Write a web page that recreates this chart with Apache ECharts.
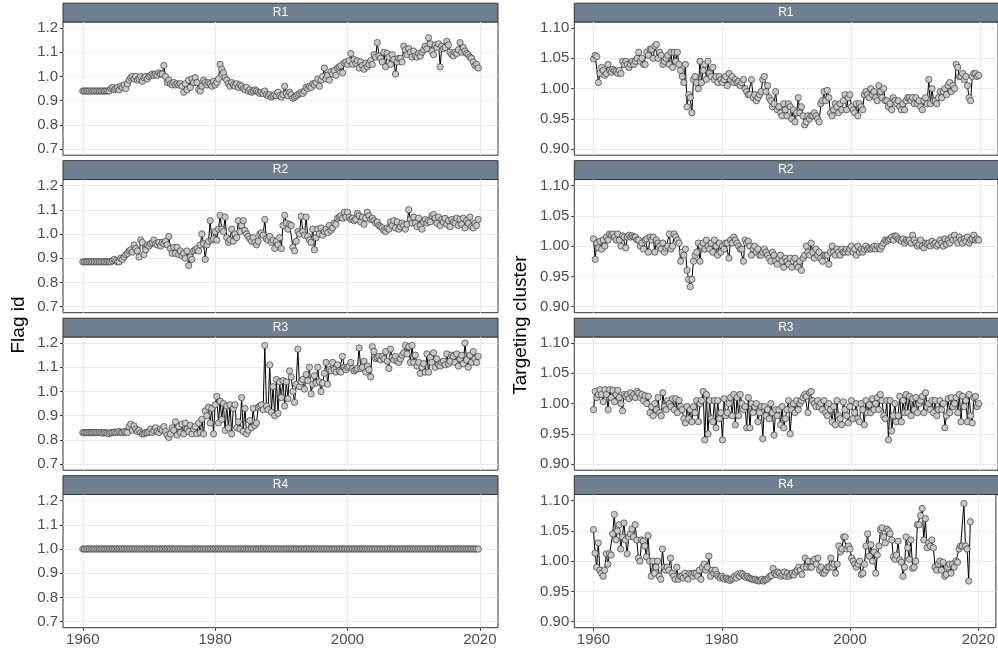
<!DOCTYPE html>
<html>
<head>
<meta charset="utf-8">
<script src="https://cdn.jsdelivr.net/npm/echarts@6/dist/echarts.min.js"></script>
<style>html,body{margin:0;padding:0;background:#fff;}#c{width:998px;height:648px;}</style>
</head>
<body>
<div id="c"></div>
<script>
// ---- data (quarterly, starting 1960 Q1) ----
const startYear = 1960;
const panelNames = ['R1', 'R2', 'R3', 'R4'];
const xTicks = [1960, 1980, 2000, 2020];
const flagTicks = [0.7, 0.8, 0.9, 1.0, 1.1, 1.2];
const targetTicks = [0.90, 0.95, 1.00, 1.05, 1.10];

const flagR1 = [
.94,.94,.94,.94, .94,.94,.94,.94, .94,.94,.94,.94, .94,.94,.94,.94,
.94,.95,.955,.945, .95,.955,.945,.96, .955,.965,.95,.97, .985,.995,1.0,.99,
1.0,.985,.99,1.0, .98,.995,1.0,.99, 1.0,1.005,1.01,1.005, 1.01,1.005,1.015,1.01,
1.01,1.045,1.0,.975, .985,.97,.965,.975, .965,.97,.965,.97, .96,.935,.97,.945,
.985,.955,.99,.975, .995,.975,.945,.94, .96,.985,.975,.965, .975,.97,.96,.98,
.965,.975,.99,1.05, 1.03,1.015,.995,.985, .97,.96,.975,.965, .96,.97,.955,.965,
.96,.95,.945,.955, .94,.945,.935,.94, .945,.94,.935,.93, .935,.93,.94,.925,
.92,.925,.915,.92, .925,.92,.935,.92, .915,.925,.96,.93, .92,.935,.925,.91,
.915,.92,.925,.93, .935,.93,.94,.955, .95,.96,.955,.97, .965,.975,.99,.96,
.985,1.0,1.035,.99, 1.005,.985,1.02,1.01, 1.025,1.005,1.035,1.04, 1.045,1.015,1.055,1.06,
1.05,1.065,1.095,1.05, 1.07,1.055,1.065,1.035, 1.06,1.045,1.03,1.055, 1.04,1.05,1.065,1.05,
1.09,1.08,1.14,1.085, 1.075,1.06,1.1,1.04, 1.095,1.08,1.05,1.09, 1.07,1.01,1.06,1.075,
1.075,1.06,1.125,1.11, 1.09,1.115,1.1,1.08, 1.105,1.085,1.08,1.095, 1.085,1.1,1.11,1.125,
1.115,1.16,1.135,1.105, 1.09,1.13,1.12,1.135, 1.04,1.125,1.115,1.12, 1.145,1.13,1.1,1.09,
1.085,1.1,1.095,1.11, 1.14,1.1,1.12,1.105, 1.095,1.09,1.08,1.075, 1.06,1.045,1.05,1.035
];
const flagR2 = [
.885,.885,.885,.885, .885,.885,.885,.885, .885,.885,.885,.885, .885,.885,.885,.885,
.885,.885,.89,.895, .89,.885,.885,.9, .895,.905,.915,.92, .93,.935,.925,.955,
.94,.93,.905,.975, .965,.915,.935,.955, .95,.96,.965,.975, .96,.955,.965,.95,
.965,.96,.97,.955, .99,.94,.92,.945, .92,.945,.915,.93, .91,.92,.9,.93,
.87,.905,.895,.93, .935,.94,.93,.955, 1.0,.96,.895,.955, .97,1.055,.975,.98,
1.01,.975,1.02,1.077, 1.02,1.01,1.07,.985, .965,.975,1.02,.97, 1.0,.985,1.055,1.01,
1.035,1.055,1.015,1.0, .99,.98,.97,.985, .965,.955,.97,1.0, 1.005,.995,1.06,.98,
.975,.99,.965,.975, .94,.97,.955,.985, .94,1.035,1.077,1.045, 1.02,1.04,1.035,.945,
.93,.97,1.01,1.0, 1.073,1.01,.995,1.07, .99,.975,.965,1.02, .935,.985,1.02,1.0,
1.025,.995,1.01,1.02, 1.005,1.035,1.015,1.025, 1.045,1.04,1.065,1.07, 1.075,1.065,1.09,1.07,
1.09,1.07,1.06,1.065, 1.055,1.06,1.085,1.075, 1.05,1.07,1.04,1.065, 1.09,1.075,1.06,1.065,
1.055,1.045,1.05,1.035, 1.03,1.025,1.015,1.01, 1.025,1.02,1.05,1.035, 1.055,1.025,1.05,1.02,
1.03,1.045,1.035,1.02, 1.04,1.1,1.06,1.045, 1.07,1.045,1.03,1.065, 1.035,1.02,1.05,1.06,
1.045,1.055,1.05,1.075, 1.08,1.065,1.045,1.07, 1.035,1.06,1.05,1.065, 1.04,1.055,1.03,1.06,
1.05,1.045,1.065,1.035, 1.06,1.04,1.065,1.025, 1.055,1.045,1.07,1.03, 1.025,1.045,1.035,1.06
];
const flagR3 = [
.83,.83,.83,.83, .83,.83,.83,.83, .83,.83,.83,.83, .828,.83,.83,.828,
.826,.83,.83,.832, .83,.832,.835,.83, .83,.835,.832,.83, .855,.865,.84,.858,
.845,.835,.84,.83, .825,.825,.83,.83, .835,.845,.83,.84, .85,.835,.83,.845,
.84,.855,.835,.82, .81,.825,.85,.84, .875,.82,.855,.83, .865,.825,.87,.845,
.835,.86,.825,.845, .855,.825,.87,.83, .885,.825,.92,.9, .935,.87,.93,.825,
.945,.98,.87,.96, .885,.95,.84,.94, .85,.945,.825,.93, .945,.85,.875,.845,
.975,.835,.93,.825, .84,.88,.85,.93, .86,.87,.935,.94, .945,.925,1.19,.94,
.925,1.11,.915,1.02, .9,1.05,.91,1.04, .975,1.045,.94,1.04, .97,1.085,1.06,1.0,
.955,1.03,1.175,1.02, 1.04,1.05,1.01,1.07, 1.045,1.1,.99,1.03, 1.065,1.035,1.1,1.04,
1.0,1.035,1.075,1.12, 1.03,1.09,1.085,1.12, 1.09,1.08,1.11,1.085, 1.08,1.145,1.1,1.09,
1.1,1.105,1.12,1.095, 1.085,1.09,1.095,1.18, 1.095,1.1,1.125,1.08, 1.105,1.09,1.06,1.185,
1.165,1.135,1.14,1.145, 1.13,1.145,1.135,1.165, 1.125,1.095,1.175,1.14, 1.13,1.145,1.125,1.12,
1.135,1.15,1.16,1.19, 1.155,1.185,1.12,1.19, 1.12,1.15,1.105,1.12, 1.075,1.1,1.115,1.08,
1.155,1.08,1.14,1.12, 1.16,1.1,1.135,1.11, 1.105,1.12,1.125,1.11, 1.155,1.115,1.125,1.15,
1.145,1.12,1.155,1.105, 1.135,1.15,1.115,1.2, 1.13,1.1,1.15,1.12, 1.165,1.135,1.12,1.145
];
const flagR4 = [
1,1,1,1,1,1,1,1,1,1,1,1,1,1,1,1,1,1,1,1,
1,1,1,1,1,1,1,1,1,1,1,1,1,1,1,1,1,1,1,1,
1,1,1,1,1,1,1,1,1,1,1,1,1,1,1,1,1,1,1,1,
1,1,1,1,1,1,1,1,1,1,1,1,1,1,1,1,1,1,1,1,
1,1,1,1,1,1,1,1,1,1,1,1,1,1,1,1,1,1,1,1,
1,1,1,1,1,1,1,1,1,1,1,1,1,1,1,1,1,1,1,1,
1,1,1,1,1,1,1,1,1,1,1,1,1,1,1,1,1,1,1,1,
1,1,1,1,1,1,1,1,1,1,1,1,1,1,1,1,1,1,1,1,
1,1,1,1,1,1,1,1,1,1,1,1,1,1,1,1,1,1,1,1,
1,1,1,1,1,1,1,1,1,1,1,1,1,1,1,1,1,1,1,1,
1,1,1,1,1,1,1,1,1,1,1,1,1,1,1,1,1,1,1,1,
1,1,1,1,1,1,1,1,1,1,1,1,1,1,1,1,1,1,1,1
];
const targetR1 = [
1.049,1.055,1.053,1.01, 1.025,1.035,1.03,1.022, 1.025,1.04,1.03,1.027, 1.032,1.03,1.028,1.025,
1.03,1.025,1.045,1.04, 1.045,1.04,1.035,1.04, 1.045,1.04,1.045,1.05, 1.06,1.045,1.05,1.04,
1.04,1.06,1.055,1.065, 1.065,1.05,1.07,1.073, 1.05,1.06,1.055,1.04, 1.045,1.05,1.055,1.04,
1.06,1.035,1.06,1.045, 1.06,1.04,1.03,1.02, 1.01,1.04,.97,.99, .985,.96,1.015,1.02,
1.01,1.0,1.045,1.01, 1.03,1.04,1.015,1.045, 1.025,1.02,1.035,1.015, 1.02,1.01,1.02,1.015,
1.01,1.015,1.02,1.005, 1.025,1.015,1.02,1.01, 1.015,1.01,1.012,1.005, 1.01,1.015,1.0,.995,
.99,.99,1.015,.985, .99,.98,.985,.99, .995,1.015,1.02,.995, 1.005,.985,.98,.97,
.975,.995,.965,.97, .96,.955,.975,.965, .955,.975,.97,.95, .965,.945,.96,.985,
.96,.97,.955,.94, .945,.955,.95,.955, .955,.96,.955,.95, .945,.975,.98,.995,
.98,.997,.985,.96, .955,.965,.975,.97, .96,.975,.965,.98, .99,.965,.985,.99,
.97,.965,.96,.975, .955,.975,.97,.965, .99,.995,.99,.985, 1.0,.99,.995,.985,
.98,1.005,.995,.985, 1.0,.98,.98,.97, .975,.965,.985,.98, .975,.98,.97,.965,
.975,.965,.98,.985, .985,.98,.985,.975, .985,.975,.98,.97, .965,.98,.985,.975,
1.015,.975,1.0,.98, .98,.975,.985,.995, .985,.995,1.0,.99, 1.005,1.01,.995,1.005,
1.0,1.04,1.035,1.02, 1.02,1.025,1.015,1.02, 1.005,.985,.98,1.02, 1.025,1.025,1.02,1.022
];
const targetR2 = [
1.012,.978,1.005,.997, 1.008,.995,1.01,1.0, 1.015,1.01,1.02,1.018, 1.02,1.015,1.01,1.02,
1.01,1.0,1.017,1.015, .997,1.015,1.018,1.015, 1.017,1.015,1.015,1.01, 1.01,1.0,1.005,.995,
1.01,1.012,.99,1.015, 1.01,1.015,.99,1.01, 1.005,1.0,.995,1.005, .99,.997,1.0,1.02,
.995,1.0,1.02,1.015, 1.01,1.005,.975,.99, .985,.995,.96,.945, .933,.945,.975,.985,
.99,1.005,.975,1.0, 1.005,.995,1.01,1.0, .995,1.005,.99,1.01, 1.0,.985,1.005,.99,
1.0,.995,1.005,1.005, .98,1.01,1.005,1.015, 1.01,1.005,1.0,.995, .995,.975,1.01,1.005,
1.008,1.0,.985,.995, 1.0,.99,.995,.985, .985,.99,.995,.99, .985,.98,.975,.99,
.985,.975,.97,.98, .985,.975,.965,.98, .975,.97,.98,.965, .975,.98,.97,.965,
.975,.96,.98,.985, 1.0,.99,.985,1.005, .99,.98,.995,.985, .99,.98,.975,.985,
.985,.985,.97,.99, 1.0,.99,.985,.995, .99,.985,.995,.99, .99,.995,.99,.995,
1.0,.99,.995,.985, 1.0,.99,.995,.99, .995,1.0,.995,.997, .995,.997,1.0,.995,
1.0,.997,.995,1.0, 1.005,1.01,1.008,1.01, 1.012,1.015,1.01,1.017, 1.016,1.012,1.01,1.008,
1.012,1.005,1.01,1.008, 1.01,1.005,1.018,1.01, 1.005,1.0,1.003,1.01, 1.0,.997,1.005,1.003,
1.005,1.0,1.008,1.003, 1.005,1.0,1.003,1.01, 1.005,1.0,1.012,1.003, 1.01,1.005,1.015,1.01,
1.018,1.01,1.005,1.015, 1.01,1.005,1.012,1.008, 1.015,1.005,1.01,1.012, 1.018,1.01,1.012,1.01
];
const targetR3 = [
.99,1.02,1.01,1.015, 1.023,1.015,1.003,1.023, 1.015,.99,1.023,1.01, 1.022,1.003,1.015,1.022,
1.01,1.0,.988,1.015, 1.012,1.015,1.008,1.018, 1.012,1.015,1.01,1.02, 1.017,1.01,1.015,1.005,
1.013,1.0,1.012,.985, .995,.98,1.0,.99, 1.01,.985,.98,1.018, .995,.99,1.005,1.0,
.995,1.008,.99,1.008, .985,1.005,.995,.99, .975,.968,.995,.975, .99,.97,.995,.985,
1.005,.97,1.0,1.005, 1.02,.94,1.015,.95, 1.005,.975,.97,1.005, .96,1.005,.975,.985,
.94,1.008,.98,.985, 1.0,1.01,.98,1.015, .965,1.01,.98,1.015, 1.0,.99,.995,.96,
1.01,.96,1.0,.985, .995,1.0,.97,.985, .995,.942,.995,.98, .99,.975,1.0,.985,
.948,.99,.98,.99, .965,.995,.96,.975, .99,1.005,.95,.99, 1.0,.985,1.005,.99,
1.0,1.005,1.01,1.015, 1.012,.985,1.018,1.02, 1.005,1.0,.995,1.005, .995,1.0,.99,1.005,
.985,.98,1.0,.99, .97,.995,.965,1.005, .98,.975,.965,1.003, .99,.98,.968,.995,
1.005,.975,.985,1.0, .975,.97,1.0,.99, .965,1.005,.985,.998, .985,1.008,.99,1.0,
1.01,.99,1.015,1.005, .98,.975,1.005,.94, 1.005,.955,.98,1.0, .97,.98,1.012,.97,
1.005,.985,1.015,.985, 1.012,.98,1.008,.99, 1.01,.985,1.0,1.005, 1.012,.985,1.018,.995,
1.0,.99,1.005,.985, 1.005,.98,.99,1.005, .99,1.0,.96,.98, 1.008,.985,1.01,.995,
1.0,1.01,.985,1.015, .97,1.012,.995,1.005, .97,1.015,.98,.968, 1.01,1.012,.995,1.0
];
const targetR4 = [
1.052,1.013,.99,1.03, .985,.98,.975,.985, 1.012,.995,1.012,1.01, 1.045,1.077,1.035,1.05,
1.06,1.02,1.04,1.063, 1.035,1.012,1.04,1.045, 1.053,1.04,1.06,1.035, 1.005,1.0,1.035,1.033,
1.025,1.007,1.042,1.0, .975,1.0,.98,.99, 1.0,.975,.97,1.02, .99,.985,.99,.985,
1.005,.98,.975,.97, .99,.97,.975,.975, .972,.98,.975,.97, .98,.978,.975,.98,
.98,.975,.985,.97, .99,.995,.985,.99, 1.008,.975,.985,.98, .985,.978,.975,.972,
.975,.972,.97,.972, .97,.968,.97,.972, .975,.972,.978,.975, .98,.978,.975,.973,
.975,.972,.971,.97, .969,.97,.968,.967, .968,.97,.967,.969, .97,.972,.975,.976,
.988,.98,.978,.982, .98,.975,.978,.982, .975,.98,.975,.978, .98,.977,.982,.985,
.99,.985,.978,.99, 1.005,.99,1.0,.99, .99,1.0,1.003,.995, 1.005,.985,.99,.98,
.98,.985,.99,.99, 1.005,.99,.995,.98, .995,1.025,1.015,1.02, 1.04,1.04,1.02,1.025,
1.02,1.005,1.0,.995, .99,.995,1.0,.978, .98,.995,1.025,1.045, 1.008,1.027,1.0,1.015,
.98,1.01,1.025,1.052, 1.055,1.04,1.03,1.053, 1.05,1.045,1.035,1.007, 1.003,1.01,1.033,1.002,
.998,.975,.99,1.04, 1.022,1.003,1.035,.988, .99,1.0,1.06,1.06, 1.075,1.087,1.035,1.07,
1.022,1.03,1.025,1.035, 1.022,.99,.985,.995, 1.0,.985,.998,.975, .978,.99,.995,.98,
.995,.99,1.0,.998, 1.02,1.025,1.025,1.095, 1.025,1.02,.967,1.065
];

const flagSeries = [flagR1, flagR2, flagR3, flagR4];
const targetSeries = [targetR1, targetR2, targetR3, targetR4];

// ---- layout ----
const plotTops = [22, 179.5, 337, 494.5];
const plotH = 133.2;
const stripH = 18.8;
const cols = [
  {left: 63, width: 435, min: 0.675, max: 1.225, ticks: flagTicks, dec: 1, series: flagSeries},
  {left: 574.3, width: 426, min: 0.89, max: 1.11, ticks: targetTicks, dec: 2, series: targetSeries}
];
const FONT = "'Liberation Sans', Arial, Helvetica, sans-serif";

const grids = [], xAxes = [], yAxes = [], series = [], graphics = [];
let gi = 0;
cols.forEach((col, c) => {
  plotTops.forEach((top, p) => {
    const bottom = p === 3;
    grids.push({left: col.left, top: top, width: col.width, height: plotH,
      show: true, borderColor: '#333', borderWidth: 1, backgroundColor: 'transparent', containLabel: false});
    xAxes.push({type: 'value', gridIndex: gi, min: 1957.01, max: 2022.74,
      axisLine: {show: false},
      axisTick: {show: bottom, inside: false, length: 3, lineStyle: {color: '#333', width: 1}, customValues: xTicks},
      axisLabel: {show: bottom, customValues: xTicks, color: '#4D4D4D', fontSize: 15, fontFamily: FONT, margin: 5,
        formatter: v => String(Math.round(v))},
      splitLine: {show: true, lineStyle: {color: '#EBEBEB', width: 1}},
      minorSplitLine: {show: false}
    });
    yAxes.push({type: 'value', gridIndex: gi, min: col.min, max: col.max,
      axisLine: {show: false},
      axisTick: {show: true, inside: false, length: 3, lineStyle: {color: '#333', width: 1}, customValues: col.ticks},
      axisLabel: {customValues: col.ticks, color: '#4D4D4D', fontSize: 15, fontFamily: FONT, margin: 5,
        formatter: v => v.toFixed(col.dec)},
      splitLine: {show: true, lineStyle: {color: '#EBEBEB', width: 1}}
    });
    const vals = col.series[p];
    series.push({type: 'line', xAxisIndex: gi, yAxisIndex: gi,
      data: vals.map((v, i) => [startYear + i / 4, v]),
      symbol: 'circle', symbolSize: 6.3, showAllSymbol: true,
      lineStyle: {color: '#000', width: 1},
      itemStyle: {color: '#C8C8C8', borderColor: '#222', borderWidth: 0.6},
      emphasis: {disabled: true}, silent: true, animation: false, z: 3
    });
    graphics.push({type: 'rect', shape: {x: col.left, y: top - stripH, width: col.width, height: stripH},
      style: {fill: '#708090', stroke: '#333', lineWidth: 1}, silent: true});
    graphics.push({type: 'text', x: col.left + col.width / 2 - (c === 1 ? 1.5 : 0), y: top - stripH / 2,
      style: {text: panelNames[p], fill: '#fff', font: '12px ' + FONT, align: 'center', verticalAlign: 'middle',
        textAlign: 'center', textVerticalAlign: 'middle'}, silent: true});
    gi++;
  });
});
graphics.push({type: 'text', x: 19, y: 325, rotation: Math.PI / 2,
  style: {text: 'Flag id', fill: '#000', font: '19px ' + FONT, align: 'center', verticalAlign: 'middle',
    textAlign: 'center', textVerticalAlign: 'middle'}, silent: true});
graphics.push({type: 'text', x: 521, y: 325, rotation: Math.PI / 2,
  style: {text: 'Targeting cluster', fill: '#000', font: '19px ' + FONT, align: 'center', verticalAlign: 'middle',
    textAlign: 'center', textVerticalAlign: 'middle'}, silent: true});

const chart = echarts.init(document.getElementById('c'), null, {renderer: 'canvas'});
chart.setOption({
  animation: false,
  backgroundColor: '#fff',
  grid: grids, xAxis: xAxes, yAxis: yAxes, series: series,
  graphic: {elements: graphics}
});
</script>
</body>
</html>
